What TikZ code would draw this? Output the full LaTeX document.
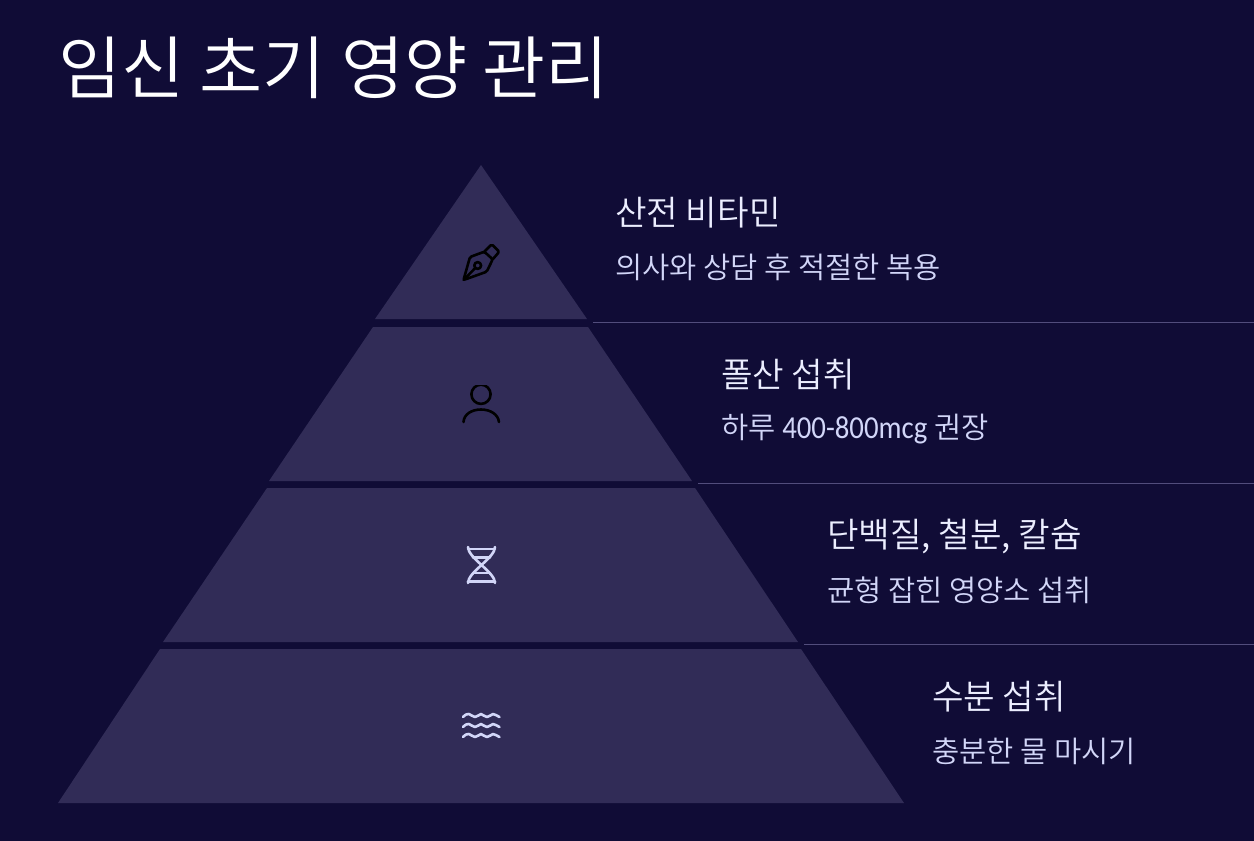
\documentclass[tikz,border=0pt]{standalone}
\usepackage{fontspec}
\usepackage{xcolor}
\setmainfont{Noto Sans CJK KR DemiLight}
\newfontfamily\latinpart[FakeStretch=0.9]{Carlito}
\usetikzlibrary{positioning}
\definecolor{bgnavy}{HTML}{100C36}
\definecolor{tierfill}{HTML}{312C57}
\definecolor{ruleline}{HTML}{524D7C}
\definecolor{headtext}{HTML}{ECEEFF}
\definecolor{subtext}{HTML}{D2D6F8}
\tikzset{
  tier/.style={fill=tierfill, draw=none},
  sepline/.style={draw=ruleline, line width=1.4pt},
  headlabel/.style={anchor=west, inner sep=0pt, text=headtext, font=\fontsize{34.3}{40}\selectfont},
  sublabel/.style={anchor=west, inner sep=0pt, text=subtext, font=\fontsize{29.6}{36}\selectfont},
  darkicon/.style={draw=black, line width=2.6pt, line cap=round, line join=round},
  lighticon/.style={draw=subtext, line width=2.6pt, line cap=round, line join=round}
}

\begin{document}
\begin{tikzpicture}[x=1pt, y=-1pt]
\useasboundingbox (0,0) rectangle (1254,841);
\fill[bgnavy] (0,0) rectangle (1254,841);

% Title
\node[anchor=west, inner sep=0pt, text=white, font=\fontsize{68.6}{80}\selectfont] (title) at (58,68) {임신 초기 영양 관리};

% Pyramid tiers
\fill[tier] (481,165) -- (587,319) -- (375,319) -- cycle;
\fill[tier] (373,327) -- (588,327) -- (692,481) -- (269,481) -- cycle;
\fill[tier] (267,488) -- (695,488) -- (798,642) -- (163,642) -- cycle;
\fill[tier] (160,649) -- (801,649) -- (904,803) -- (58,803) -- cycle;

% Separator lines
\draw[sepline] (593,322.5) -- (1254,322.5);
\draw[sepline] (698,483.5) -- (1254,483.5);
\draw[sepline] (804,644.5) -- (1254,644.5);

% Tier labels
\node[headlabel] (vitamin) at (615,213) {산전 비타민};
\node[sublabel] (vitaminsub) at (615,267) {의사와 상담 후 적절한 복용};
\node[headlabel] (folate) at (721,375) {폴산 섭취};
\node[sublabel] (folatesub) at (721,429) {하루 {\latinpart\fontsize{32}{36}\selectfont 400-800mcg} 권장};
\node[headlabel] (protein) at (827,536) {단백질, 철분, 칼슘};
\node[sublabel] (proteinsub) at (827,590) {균형 잡힌 영양소 섭취};
\node[headlabel] (water) at (932,697) {수분 섭취};
\node[sublabel] (watersub) at (932,751) {충분한 물 마시기};

% Pen icon
\draw[darkicon, rounded corners=1.5pt] (463.5,280) -- (470,257) -- (484.3,251.7) -- (492.7,259.3) -- (486.7,271.7) -- cycle;
\draw[darkicon, rounded corners=1.5pt] (484.3,251.7) -- (491.7,244.3) -- (499.3,251.7) -- (492.7,259.3);
\draw[darkicon] (477.7,265.5) circle (3.4);
\draw[darkicon] (463.5,280) -- (475,268.3);

% Person icon
\begin{scope}
\clip (455,385) rectangle (507,430);
\draw[darkicon] (481,394.3) circle (9.6);
\end{scope}
\draw[darkicon] (463.5,422) .. controls (464,414) and (472,409.5) .. (481,409.5) .. controls (490,409.5) and (498,414) .. (499,422);

% Helix icon
\draw[lighticon] (468,547) .. controls (468,558) and (495,572) .. (495,583);
\draw[lighticon] (495,547) .. controls (495,558) and (468,572) .. (468,583);
\draw[lighticon] (468,549) -- (495,549);
\draw[lighticon] (473,557.5) -- (490,557.5);
\draw[lighticon] (473,573) -- (490,573);
\draw[lighticon] (468,581.5) -- (495,581.5);

% Water icon
\foreach \waveY in {717,727,737}{
  \draw[lighticon] (463,\waveY) .. controls (466,\waveY-3) and (467,\waveY-3) .. (469,\waveY-3) .. controls (471,\waveY-3) and (472,\waveY) .. (475,\waveY) .. controls (478,\waveY) and (479,\waveY-3) .. (481,\waveY-3) .. controls (483,\waveY-3) and (484,\waveY) .. (487,\waveY) .. controls (490,\waveY) and (491,\waveY-3) .. (493,\waveY-3) .. controls (495,\waveY-3) and (497,\waveY-1) .. (499.5,\waveY);
}
\end{tikzpicture}
\end{document}
